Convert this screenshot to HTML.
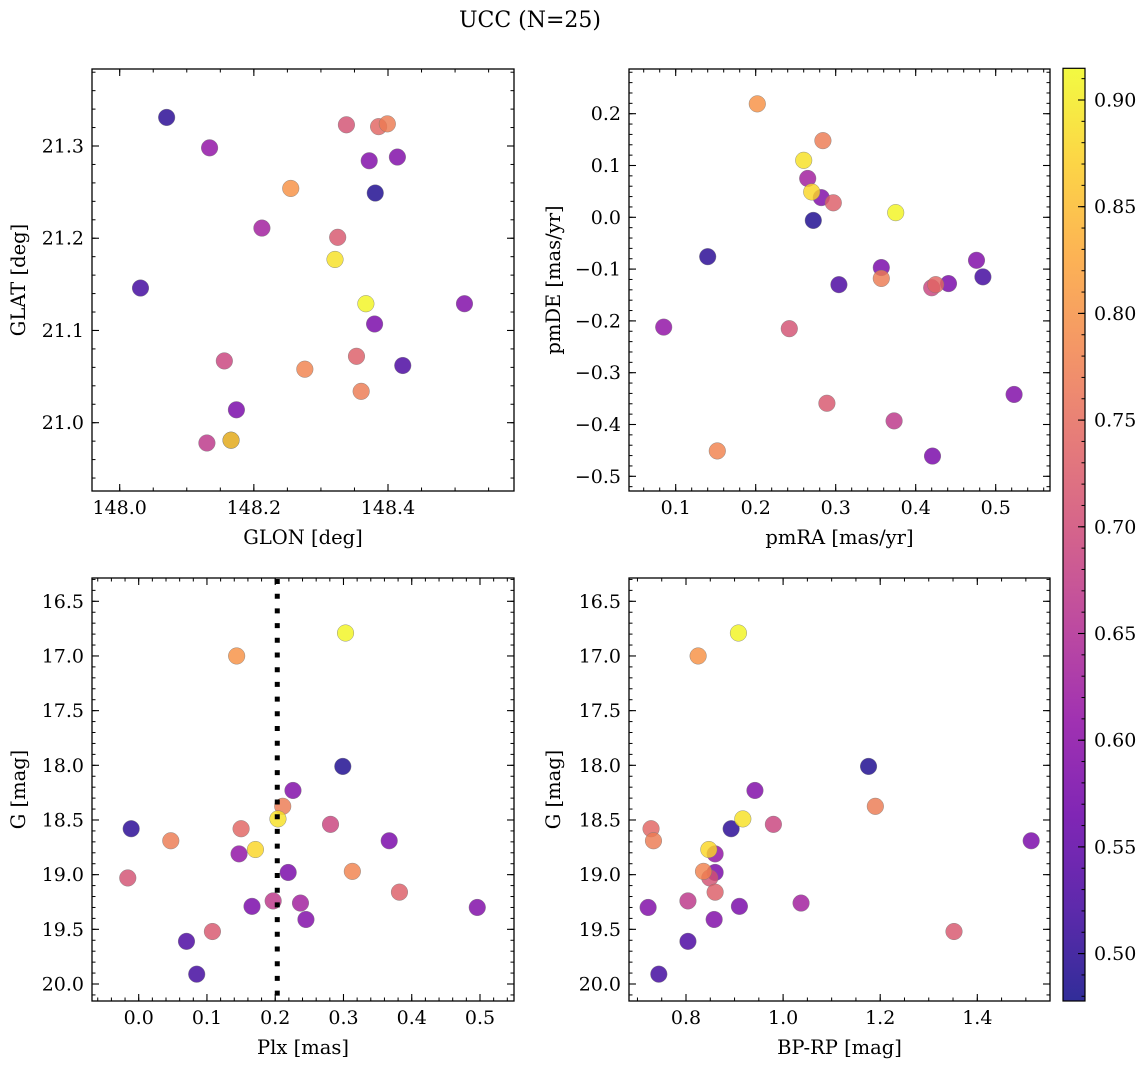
<!DOCTYPE html>
<html><head><meta charset="utf-8"><style>
html,body{margin:0;padding:0;background:#fff;}
svg text{font-family:"DejaVu Serif","Liberation Serif",serif;fill:#000;}
</style></head><body>
<svg id="fig" width="1148" height="1068" viewBox="0 0 1148 1068" xmlns="http://www.w3.org/2000/svg">
<rect width="1148" height="1068" fill="#fff"/>
<text x="530" y="27" font-size="22" text-anchor="middle">UCC (N=25)</text>
</svg>
<script>
// star data (same index = same star in all panels)
const glon = [148.367,148.255,148.381,148.372,148.399,148.321,148.070,148.386,148.156,148.360,148.174,148.166,148.134,148.380,148.276,148.338,148.353,148.130,148.212,148.166,148.414,148.514,148.325,148.422,148.031];
const glat = [21.129,21.254,21.249,21.284,21.324,21.177,21.331,21.321,21.067,21.034,21.014,20.981,21.298,21.107,21.058,21.323,21.072,20.978,21.211,20.981,21.288,21.129,21.201,21.062,21.146];
const pmra = [0.375,0.202,0.272,0.282,0.284,0.260,0.140,0.425,0.420,0.357,0.357,0.270,0.085,0.441,0.152,0.242,0.297,0.373,0.265,0.421,0.476,0.523,0.289,0.304,0.484];
const pmde = [0.009,0.219,-0.006,0.038,0.148,0.110,-0.076,-0.130,-0.136,-0.118,-0.097,0.049,-0.212,-0.128,-0.451,-0.215,0.028,-0.393,0.075,-0.461,-0.083,-0.342,-0.359,-0.130,-0.115];
const plx  = [0.303,0.1435,0.299,0.226,0.211,0.204,-0.011,0.150,0.281,0.047,0.367,0.171,0.147,0.219,0.313,-0.016,0.382,0.197,0.237,0.166,0.496,0.245,0.108,0.070,0.085];
const gmag = [16.79,17.00,18.01,18.23,18.375,18.49,18.58,18.58,18.54,18.69,18.69,18.77,18.81,18.98,18.97,19.03,19.16,19.24,19.26,19.29,19.30,19.41,19.52,19.61,19.91];
const bprp = [0.908,0.825,1.176,0.942,1.190,0.917,0.893,0.728,0.980,0.733,1.511,0.847,0.860,0.860,0.836,0.849,0.860,0.804,1.037,0.910,0.722,0.858,1.352,0.804,0.744];
const prob = [0.91,0.80,0.49,0.59,0.77,0.89,0.50,0.74,0.69,0.77,0.58,0.88,0.61,0.58,0.78,0.71,0.73,0.67,0.63,0.58,0.59,0.59,0.72,0.53,0.52];
const plxLine = [0.203];
const xTicks1 = [148.0,148.2,148.4], yTicks1 = [21.0,21.1,21.2,21.3];
const xTicks2 = [0.1,0.2,0.3,0.4,0.5], yTicks2 = [-0.5,-0.4,-0.3,-0.2,-0.1,0.0,0.1,0.2];
const xTicks3 = [0.0,0.1,0.2,0.3,0.4,0.5], yTicksG = [16.5,17.0,17.5,18.0,18.5,19.0,19.5,20.0];
const xTicks4 = [0.8,1.0,1.2,1.4];
const cbTicks = [0.50,0.55,0.60,0.65,0.70,0.75,0.80,0.85,0.90];

const svg = document.getElementById('fig');
const NS = 'http://www.w3.org/2000/svg';
const TFS = 19, LFS = 19.5;
function el(tag, attrs, parent){const e=document.createElementNS(NS,tag);for(const k in attrs)e.setAttribute(k,attrs[k]);(parent||svg).appendChild(e);return e;}
function lin(d0,d1,r0,r1){return v=>r0+(v-d0)*(r1-r0)/(d1-d0);}
const stops=[[13,8,135],[65,4,157],[106,0,168],[143,13,164],[177,42,144],[204,71,120],[225,100,98],[242,132,75],[252,166,54],[252,206,37],[240,249,33]];
function plasma(t){t=Math.max(0,Math.min(1,t));const f=t*10,i=Math.min(9,Math.floor(f)),r=f-i;const a=stops[i],b=stops[i+1];return 'rgb('+a.map((c,j)=>Math.round(c+(b[j]-c)*r)).join(',')+')';}
const vmin=0.479, vmax=0.915;
function fmt(v,d){return v.toFixed(d).replace('-','\u2212');}

function panel(name,box,sx,sy,xt,yt,xminor,yminor,xdec,ydec,xs,ys,xlabel,ylabel){
  const g=el('g',{});
  
  
  const [L,T,R,B]=box;
  const order=prob.map((p,i)=>i).sort((a,b)=>prob[a]-prob[b]);
  for(const i of order){
    const c=el('circle',{cx:sx(xs[i]),cy:sy(ys[i]),r:8.3,fill:plasma((prob[i]-vmin)/(vmax-vmin)),'fill-opacity':0.82,stroke:'#777','stroke-width':0.4},g);
    
    
  }
  const xlo=xt[0]-10*xminor, xhi=xt[xt.length-1]+10*xminor;
  for(let v=xlo;v<=xhi+1e-9;v+=xminor){const x=sx(v);if(x<L+0.5||x>R-0.5)continue;
    el('line',{x1:x,y1:B,x2:x,y2:B-3.5,stroke:'#000','stroke-width':1},g);el('line',{x1:x,y1:T,x2:x,y2:T+3.5,stroke:'#000','stroke-width':1},g);}
  const ylo=yt[0]-10*yminor, yhi=yt[yt.length-1]+10*yminor;
  for(let v=ylo;v<=yhi+1e-9;v+=yminor){const y=sy(v);if(y<T+0.5||y>B-0.5)continue;
    el('line',{x1:L,y1:y,x2:L+3.5,y2:y,stroke:'#000','stroke-width':1},g);el('line',{x1:R,y1:y,x2:R-3.5,y2:y,stroke:'#000','stroke-width':1},g);}
  for(const v of xt){const x=sx(v);
    el('line',{x1:x,y1:B,x2:x,y2:B-7,stroke:'#000','stroke-width':1.1},g);el('line',{x1:x,y1:T,x2:x,y2:T+7,stroke:'#000','stroke-width':1.1},g);
    const t=el('text',{x:x,y:B+23,'font-size':TFS,'text-anchor':'middle'},g);t.textContent=fmt(v,xdec);
    }
  for(const v of yt){const y=sy(v);
    el('line',{x1:L,y1:y,x2:L+7,y2:y,stroke:'#000','stroke-width':1.1},g);el('line',{x1:R,y1:y,x2:R-7,y2:y,stroke:'#000','stroke-width':1.1},g);
    const t=el('text',{x:L-8,y:y+6.5,'font-size':TFS,'text-anchor':'end'},g);t.textContent=fmt(v,ydec);
    }
  el('rect',{x:L,y:T,width:R-L,height:B-T,fill:'none',stroke:'#000','stroke-width':1.3},g);
  const xl=el('text',{x:(L+R)/2,y:B+53,'font-size':LFS,'text-anchor':'middle'},g);xl.textContent=xlabel;
  
  const cy=(T+B)/2, cx=(L<300)?25:560;
  const yl=el('text',{x:cx,y:cy,'font-size':LFS,'text-anchor':'middle',transform:'rotate(-90 '+cx+' '+cy+')'},g);yl.textContent=ylabel;
  
  return g;
}
const sx1=lin(148.0,148.4,119.7,388), sy1=lin(21.3,21.0,146,422.7);
panel('glon-glat-panel',[92,69,514,491],sx1,sy1,xTicks1,yTicks1,0.05,0.02,1,1,glon,glat,'GLON [deg]','GLAT [deg]');
const sx2=lin(0.1,0.5,675.7,995.7), sy2=lin(0.2,-0.5,113.7,476.3);
panel('pm-panel',[629,69,1050,491],sx2,sy2,xTicks2,yTicks2,0.02,0.02,1,1,pmra,pmde,'pmRA [mas/yr]','pmDE [mas/yr]');
const sx3=lin(0.0,0.5,138.7,480), syG=lin(16.5,20.0,601.3,984);
const g3=panel('plx-g-panel',[92,578,514,1001],sx3,syG,xTicks3,yTicksG,0.02,0.1,1,1,plx,gmag,'Plx [mas]','G [mag]');
for(const v of plxLine){const l=el('line',{x1:sx3(v),y1:579,x2:sx3(v),y2:1000,stroke:'#000','stroke-width':5,'stroke-dasharray':'5 9.7'},g3);

}
const sx4=lin(0.8,1.4,686,977.3);
panel('cmd-panel',[629,578,1050,1001],sx4,syG,xTicks4,yTicksG,0.05,0.1,1,1,bprp,gmag,'BP-RP [mag]','G [mag]');

const cb=el('g',{});


const cT=68.3,cB=1001,cL=1063,cR=1085;
const cy=lin(0.90,0.85,100,206.7);
const defs=el('defs',{},cb);
const gr=el('linearGradient',{id:'cbg',x1:0,y1:1,x2:0,y2:0},defs);
for(let k=0;k<=20;k++){const t=k/20;el('stop',{offset:t,'stop-color':plasma(t),'stop-opacity':0.85},gr);}
el('rect',{x:cL,y:cT,width:cR-cL,height:cB-cT,fill:'url(#cbg)',stroke:'#000','stroke-width':1.2},cb);
for(let v=0.48;v<=0.915;v+=0.01){const y=cy(v);if(y<cT+1||y>cB-1)continue;el('line',{x1:cR,y1:y,x2:cR-3.5,y2:y,stroke:'#000','stroke-width':1},cb);}
for(const v of cbTicks){const y=cy(v);el('line',{x1:cR,y1:y,x2:cR-7,y2:y,stroke:'#000','stroke-width':1.1},cb);
  const t=el('text',{x:1094,y:y+6.5,'font-size':TFS},cb);t.textContent=v.toFixed(2);
  }
</script>
</body></html>
